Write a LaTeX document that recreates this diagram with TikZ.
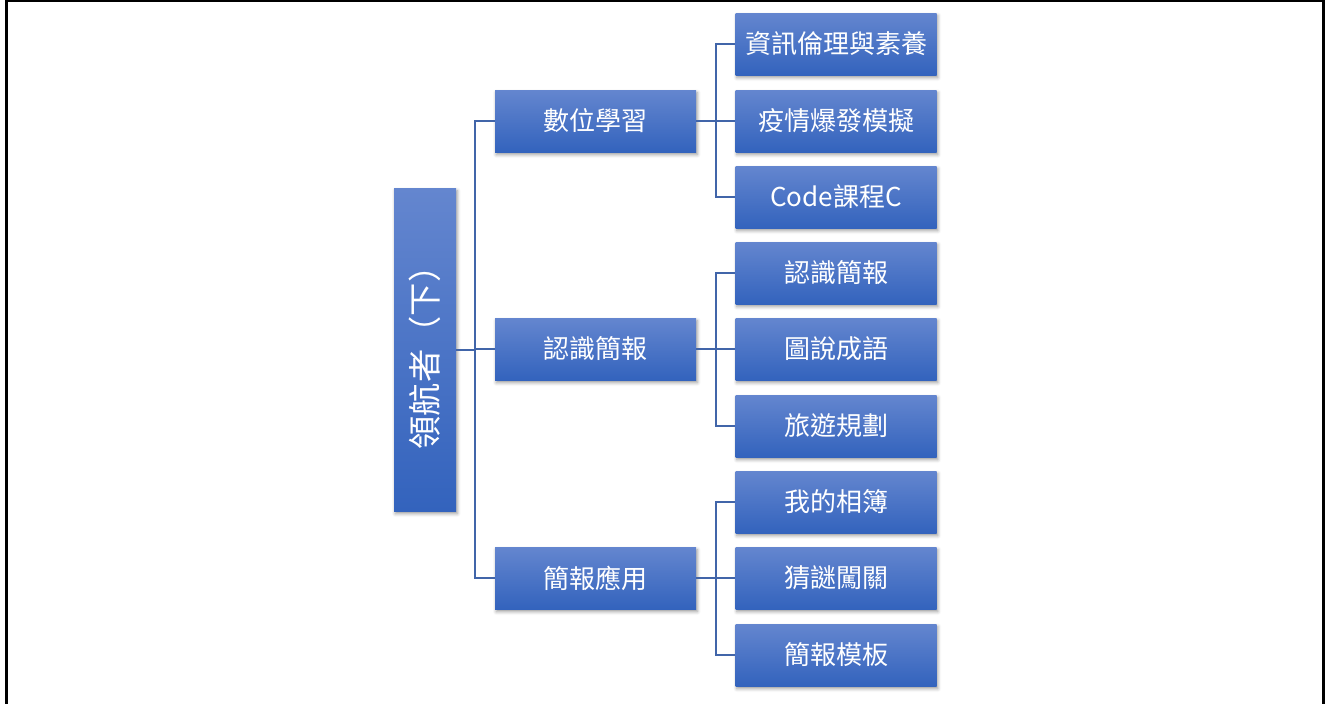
\documentclass[tikz,border=0pt]{standalone}
\usepackage{fontspec}
\setmainfont{Noto Sans CJK TC}
\usetikzlibrary{shadows.blur}
\definecolor{gtop}{HTML}{6486CF}
\definecolor{gmid}{HTML}{4673C6}
\definecolor{gbot}{HTML}{3363BD}
\definecolor{lnk}{HTML}{4165A9}
\tikzset{
  box/.style={rectangle, inner sep=0pt, text=white,
    top color=gtop, middle color=gmid, bottom color=gbot,
    minimum width=150.75pt, minimum height=46.5pt,
    font=\fontsize{19.5pt}{22pt}\selectfont,
    blur shadow={shadow xshift=1pt, shadow yshift=-2pt, shadow blur radius=2.5pt, shadow opacity=40}},
  rootbox/.style={box, minimum width=46.5pt, minimum height=242.25pt,
    font=\fontsize{25pt}{28pt}\selectfont},
  link/.style={draw=lnk, line width=1.5pt},
  framebar/.style={fill=black, draw=none}
}
\begin{document}
\begin{tikzpicture}[x=0.75pt, y=-0.75pt]
\useasboundingbox (0,0) rectangle (1325,704);
% frame
\fill[framebar] (5,0) rectangle (8.3,704);
\fill[framebar] (5,0) rectangle (1325,2);
\fill[framebar] (1321.7,0) rectangle (1325,704);
% nodes
\node[rootbox] (root) at (425,349.5) {\rotatebox{90}{領航者（下）}};
\node[box] (a) at (595.5,121) {數位學習};
\node[box] (b) at (595.5,349) {認識簡報};
\node[box] (c) at (595.5,578) {簡報應用};
\node[box] (a1) at (836,44) {資訊倫理與素養};
\node[box] (a2) at (836,121) {疫情爆發模擬};
\node[box] (a3) at (836,197) {Code課程C};
\node[box] (b1) at (836,273) {認識簡報};
\node[box] (b2) at (836,349) {圖說成語};
\node[box] (b3) at (836,426) {旅遊規劃};
\node[box] (c1) at (836,502) {我的相簿};
\node[box] (c2) at (836,578) {猜謎闖關};
\node[box] (c3) at (836,655) {簡報模板};
% connectors
\foreach \t in {a,b,c}{
  \draw[link] (root.east) -- ++(19,0) |- (\t.west);
}
\foreach \s in {a,b,c}{
  \foreach \i in {1,2,3}{
    \draw[link] (\s.east) -- ++(20,0) |- (\s\i.west);
  }
}
\end{tikzpicture}
\end{document}
